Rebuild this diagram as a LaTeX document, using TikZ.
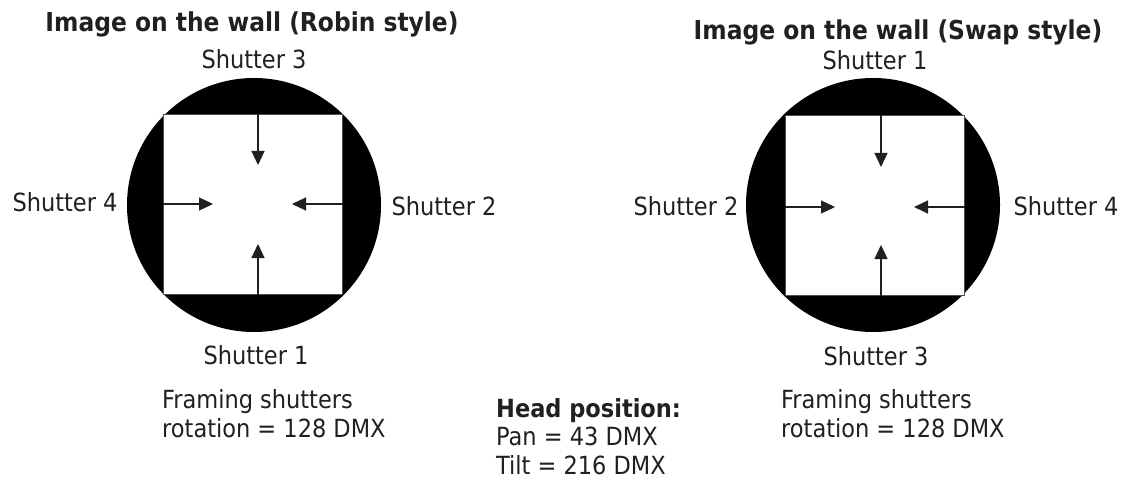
\documentclass[tikz,border=0pt]{standalone}
\usepackage{fontspec}
\setmainfont{DejaVu Sans Condensed}
\usetikzlibrary{arrows.meta}
\definecolor{ink}{HTML}{231F20}

\begin{document}
\begin{tikzpicture}[x=1pt,y=-1pt,
    lbl/.style={anchor=base,inner sep=0pt,text=ink,font=\fontsize{25}{30}\selectfont},
    ttl/.style={lbl,font=\fontsize{26}{30}\selectfont\bfseries},
    txt/.style={lbl,anchor=base west,align=left,font=\fontsize{25}{28.5}\selectfont},
    gate/.style={draw=ink!80,line width=1pt,fill=white,minimum size=179pt,inner sep=0pt},
    push/.style={draw=ink,line width=1.2pt,-{Triangle[length=14pt,width=13pt]}}]
  \useasboundingbox[fill=white] (0,0) rectangle (1123,481);
  % left: Robin style
  \fill[black] (254,205) circle (127);
  \node[gate] (sqL) at (252.5,204.5) {};
  \coordinate (tL3) at (258,165); \coordinate (tL1) at (258,244);
  \coordinate (tL4) at (213,204); \coordinate (tL2) at (292,204);
  \draw[push] (sqL.north -| tL3) -- (tL3);
  \draw[push] (sqL.south -| tL1) -- (tL1);
  \draw[push] (sqL.west |- tL4) -- (tL4);
  \draw[push] (sqL.east |- tL2) -- (tL2);
  \node[ttl] (titleL) at (252,32) {Image on the wall (Robin style)};
  \node[lbl] (s3L) at (254,69) {Shutter 3};
  \node[lbl] (s4L) at (65,211) {Shutter 4};
  \node[lbl] (s2L) at (444,215) {Shutter 2};
  \node[lbl] (s1L) at (256,364) {Shutter 1};
  % last line sits on the given baseline
  \node[txt] (rotL) at (162,437) {Framing shutters\\rotation = 128 DMX};
  % right: Swap style
  \fill[black] (873,205) circle (127);
  \node[gate] (sqR) at (874.5,205.5) {};
  \coordinate (tR1) at (881,167); \coordinate (tR3) at (881,245);
  \coordinate (tR2) at (835,207); \coordinate (tR4) at (914,207);
  \draw[push] (sqR.north -| tR1) -- (tR1);
  \draw[push] (sqR.south -| tR3) -- (tR3);
  \draw[push] (sqR.west |- tR2) -- (tR2);
  \draw[push] (sqR.east |- tR4) -- (tR4);
  \node[ttl] (titleR) at (898,40) {Image on the wall (Swap style)};
  \node[lbl] (s1R) at (875,70) {Shutter 1};
  \node[lbl] (s2R) at (686,215) {Shutter 2};
  \node[lbl] (s4R) at (1066,215) {Shutter 4};
  \node[lbl] (s3R) at (876,365) {Shutter 3};
  \node[txt] (rotR) at (781,437) {Framing shutters\\rotation = 128 DMX};
  % head position
  \node[txt] (head) at (496,474) {\textbf{Head position:}\\Pan = 43 DMX\\Tilt = 216 DMX};
\end{tikzpicture}
\end{document}
